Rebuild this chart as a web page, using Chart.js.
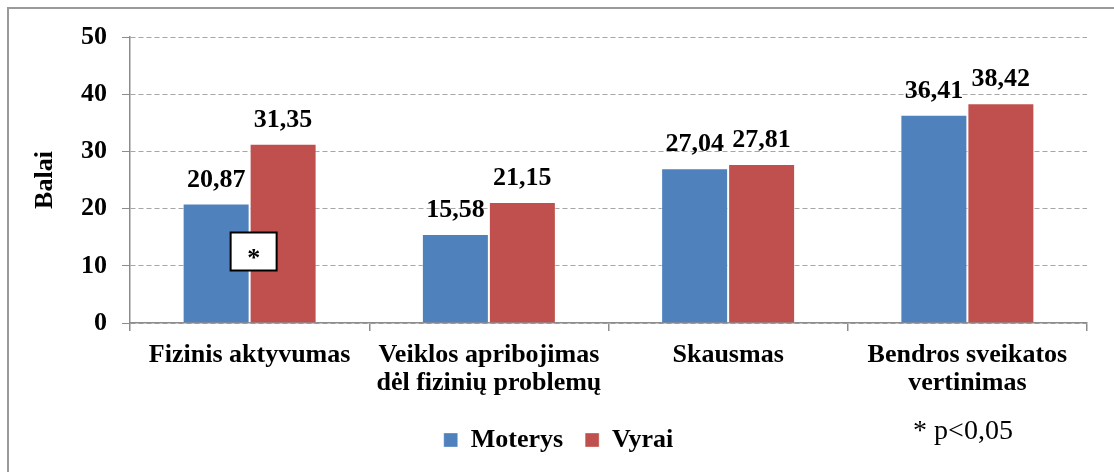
<!DOCTYPE html>
<html>
<head>
<meta charset="utf-8">
<script src="https://cdn.jsdelivr.net/npm/chart.js@4"></script>
<style>
  html, body { margin: 0; padding: 0; background: #fff; }
  #wrap { width: 1114px; height: 472px; }
</style>
</head>
<body>
<div id="wrap"><canvas id="chart" width="1114" height="472"></canvas></div>
<script>
// chart data
const categories = [
    ['Fizinis aktyvumas'],
    ['Veiklos apribojimas', 'dėl fizinių problemų'],
    ['Skausmas'],
    ['Bendros sveikatos', 'vertinimas']
];
const moterys = [20.87, 15.58, 27.04, 36.41];
const vyrai = [31.35, 21.15, 27.81, 38.42];
const seriesNames = ['Moterys', 'Vyrai'];
const yTicks = [0, 10, 20, 30, 40, 50];

const SERIF = "'Liberation Serif', 'Times New Roman', serif";
Chart.defaults.font.family = SERIF;
Chart.defaults.font.weight = 'bold';
Chart.defaults.color = '#000';

const fmt = v => v.toFixed(2).replace('.', ',');

// value labels, the "*" box, footnote and frame
const extrasPlugin = {
    id: 'extras',
    beforeDraw(chart) {
        const ctx = chart.ctx;
        ctx.save();
        ctx.strokeStyle = '#9a9a9a';
        ctx.lineWidth = 2;
        ctx.beginPath();
        ctx.moveTo(8, chart.height);
        ctx.lineTo(8, 8);
        ctx.lineTo(chart.width, 8);
        ctx.stroke();
        ctx.restore();
    },
    afterDatasetsDraw(chart) {
        const ctx = chart.ctx;
        ctx.save();
        ctx.font = 'bold 26px ' + SERIF;
        ctx.fillStyle = '#000';
        ctx.textAlign = 'center';
        ctx.textBaseline = 'alphabetic';
        chart.data.datasets.forEach((ds, di) => {
            chart.getDatasetMeta(di).data.forEach((bar, i) => {
                ctx.fillText(fmt(ds.data[i]), bar.x, bar.y - 17);
            });
        });

        // significance box on the first group
        const xs = chart.scales.x, ys = chart.scales.y;
        const cx = xs.getPixelForValue(0) + 4;
        const cy = ys.getPixelForValue(12.5);
        ctx.fillStyle = '#fff';
        ctx.fillRect(cx - 23, cy - 19, 46, 38);
        ctx.strokeStyle = '#000';
        ctx.lineWidth = 2;
        ctx.strokeRect(cx - 23, cy - 19, 46, 38);
        ctx.fillStyle = '#000';
        ctx.font = 'bold 26px ' + SERIF;
        ctx.fillText('*', cx, cy + 14);

        // footnote
        ctx.font = 'normal 28px ' + SERIF;
        ctx.textBaseline = 'middle';
        ctx.fillText('* p<0,05', 963, 432);
        ctx.restore();
    }
};

new Chart(document.getElementById('chart'), {
    type: 'bar',
    data: {
        labels: categories,
        datasets: [
            { label: seriesNames[0], data: moterys, backgroundColor: '#4F81BD', borderColor: 'rgba(255,255,255,0.35)', borderWidth: 1 },
            { label: seriesNames[1], data: vyrai, backgroundColor: '#C0504D', borderColor: 'rgba(255,255,255,0.35)', borderWidth: 1 }
        ]
    },
    options: {
        responsive: false,
        animation: false,
        devicePixelRatio: 1,
        layout: { padding: { left: 30, right: 27, top: 37, bottom: 9 } },
        datasets: { bar: { barPercentage: 1, categoryPercentage: 0.56 } },
        plugins: {
            tooltip: { enabled: false },
            legend: {
                position: 'bottom',
                labels: {
                    boxWidth: 14,
                    boxHeight: 14,
                    padding: 22,
                    font: { size: 26, weight: 'bold' }
                }
            }
        },
        scales: {
            x: {
                afterFit: s => { s.height = 82; },
                grid: { drawOnChartArea: false, color: '#8c8c8c', tickLength: 8, lineWidth: 1.5 },
                border: { color: '#8c8c8c', width: 1.5 },
                ticks: { padding: 10, font: { size: 26, weight: 'bold', lineHeight: 1.08 }, maxRotation: 0 }
            },
            y: {
                min: 0,
                max: 50,
                afterFit: s => { s.width = 100; },
                afterBuildTicks: s => { s.ticks = yTicks.map(v => ({ value: v })); },
                grid: { color: '#a6a6a6', tickColor: '#8c8c8c', tickLength: 8, lineWidth: 1 },
                border: { color: '#8c8c8c', width: 1.5, dash: [5, 3] },
                ticks: { padding: 15, font: { size: 26, weight: 'bold' } },
                title: { display: true, text: 'Balai', font: { size: 26, weight: 'bold' }, padding: { top: 0, bottom: 6 } }
            }
        }
    },
    plugins: [extrasPlugin]
});
</script>
</body>
</html>
